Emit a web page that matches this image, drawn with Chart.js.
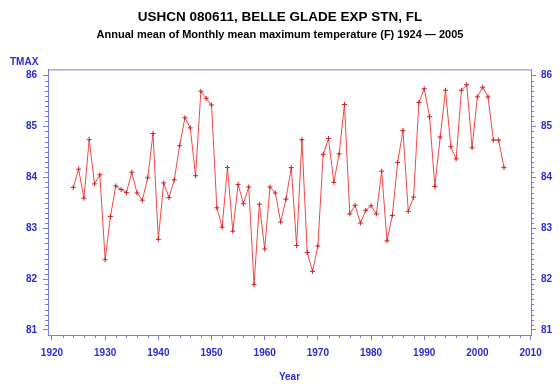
<!DOCTYPE html>
<html>
<head>
<meta charset="utf-8">
<script src="https://cdn.jsdelivr.net/npm/chart.js@4.4.0/dist/chart.umd.min.js"></script>
<style>
  html, body { margin: 0; padding: 0; background: #fff; }
  #wrap { width: 560px; height: 387px; }
</style>
</head>
<body>
<div id="wrap"><canvas id="chart"></canvas></div>
<script>
// annual mean of monthly mean max temperature
const years = [
  1924, 1925, 1926, 1927, 1928, 1929, 1930, 1931, 1932, 1933,
  1934, 1935, 1936, 1937, 1938, 1939, 1940, 1941, 1942, 1943,
  1944, 1945, 1946, 1947, 1948, 1949, 1950, 1951, 1952, 1953,
  1954, 1955, 1956, 1957, 1958, 1959, 1960, 1961, 1962, 1963,
  1964, 1965, 1966, 1967, 1968, 1969, 1970, 1971, 1972, 1973,
  1974, 1975, 1976, 1977, 1978, 1979, 1980, 1981, 1982, 1983,
  1984, 1985, 1986, 1987, 1988, 1989, 1990, 1991, 1992, 1993,
  1994, 1995, 1996, 1997, 1998, 1999, 2000, 2001, 2002, 2003,
  2004, 2005
];
const tmax = [
  83.80, 84.16, 83.59, 84.74, 83.87, 84.05, 82.38, 83.23, 83.83, 83.76,
  83.70, 84.10, 83.69, 83.55, 83.99, 84.86, 82.78, 83.89, 83.60, 83.95,
  84.62, 85.17, 84.97, 84.03, 85.69, 85.55, 85.42, 83.40, 83.02, 84.19,
  82.94, 83.86, 83.48, 83.81, 81.89, 83.47, 82.59, 83.81, 83.69, 83.12,
  83.57, 84.19, 82.66, 84.74, 82.52, 82.15, 82.65, 84.45, 84.76, 83.90,
  84.46, 85.43, 83.28, 83.45, 83.10, 83.35, 83.44, 83.28, 84.12, 82.75,
  83.25, 84.29, 84.92, 83.33, 83.61, 85.47, 85.74, 85.19, 83.82, 84.79,
  85.71, 84.60, 84.36, 85.71, 85.82, 84.58, 85.58, 85.77, 85.58, 84.73,
  84.73, 84.19
];
const xTicks = [1920, 1930, 1940, 1950, 1960, 1970, 1980, 1990, 2000, 2010];
const yTicks = [81, 82, 83, 84, 85, 86];

const axisCol = '#7b7be6';
const labelCol = '#2b2bd0';
const font = 'Liberation Sans, Arial, sans-serif';

// frame top, minor ticks and the TMAX label
const extras = {
  id: 'extras',
  afterDraw(chart) {
    const { ctx, chartArea: a, scales } = chart;
    ctx.save();
    ctx.strokeStyle = axisCol;
    ctx.lineWidth = 1;
    ctx.beginPath();
    ctx.moveTo(a.left, a.top + 0.5);
    ctx.lineTo(a.right, a.top + 0.5);
    for (let yr = 1920; yr <= 2010; yr += 2) {
      if (yr % 10 === 0) continue;
      const px = Math.round(scales.x.getPixelForValue(yr)) + 0.5;
      ctx.moveTo(px, a.bottom);
      ctx.lineTo(px, a.bottom + 3);
    }
    for (let i = 810; i <= 860; i++) {
      if (i % 10 === 0) continue;
      const py = Math.round(scales.y.getPixelForValue(i / 10)) + 0.5;
      ctx.moveTo(a.left - 3, py);
      ctx.lineTo(a.left, py);
      ctx.moveTo(a.right, py);
      ctx.lineTo(a.right + 3, py);
    }
    ctx.stroke();
    ctx.fillStyle = labelCol;
    ctx.font = 'bold 10px ' + font;
    ctx.textBaseline = 'middle';
    ctx.fillText('TMAX', 10, 62);
    ctx.restore();
  }
};

const yScale = (pos, w, pad) => ({
  type: 'linear',
  position: pos,
  min: 80.9,
  max: 86.12,
  afterBuildTicks: s => { s.ticks = yTicks.map(v => ({ value: v })); },
  afterFit: s => { s.width = w; },
  border: { color: axisCol },
  grid: { drawOnChartArea: false, tickLength: 5, tickColor: axisCol },
  ticks: { color: labelCol, padding: pad, font: { size: 10, weight: 'bold', family: font } }
});

new Chart(document.getElementById('chart'), {
  type: 'line',
  data: {
    datasets: [{
      data: years.map((y, i) => ({ x: y, y: tmax[i] })),
      borderColor: '#f24646',
      borderWidth: 1,
      pointStyle: 'cross',
      pointRadius: 2.5,
      pointBorderColor: '#cc2020',
      pointBorderWidth: 1,
      tension: 0,
      yAxisID: 'y'
    }]
  },
  options: {
    responsive: true,
    maintainAspectRatio: false,
    animation: false,
    layout: { padding: { top: 9, left: 0, right: 0, bottom: 0 } },
    plugins: {
      legend: { display: false },
      tooltip: { enabled: false },
      title: {
        display: true,
        text: 'USHCN 080611, BELLE GLADE EXP STN, FL',
        color: '#000',
        font: { size: 13.5, weight: 'bold', family: font },
        padding: { top: 0, bottom: 2 }
      },
      subtitle: {
        display: true,
        text: 'Annual mean of Monthly mean maximum temperature (F) 1924 \u2014 2005',
        color: '#000',
        font: { size: 11, weight: 'bold', family: font },
        padding: { top: 1, bottom: 28 }
      }
    },
    scales: {
      x: {
        type: 'linear',
        min: 1919.25,
        max: 2010.08,
        afterBuildTicks: s => { s.ticks = xTicks.map(v => ({ value: v })); },
        afterFit: s => { s.height = 52; },
        border: { color: axisCol },
        grid: { drawOnChartArea: false, tickLength: 5, tickColor: axisCol },
        ticks: {
          color: labelCol, padding: 7, maxRotation: 0,
          font: { size: 10, weight: 'bold', family: font },
          callback: v => String(v)
        },
        title: { display: true, text: 'Year', color: labelCol, padding: { bottom: 4 }, font: { size: 10, weight: 'bold', family: font } }
      },
      y: yScale('left', 48, 6),
      y2: yScale('right', 29, 5)
    }
  },
  plugins: [extras]
});
</script>
</body>
</html>
